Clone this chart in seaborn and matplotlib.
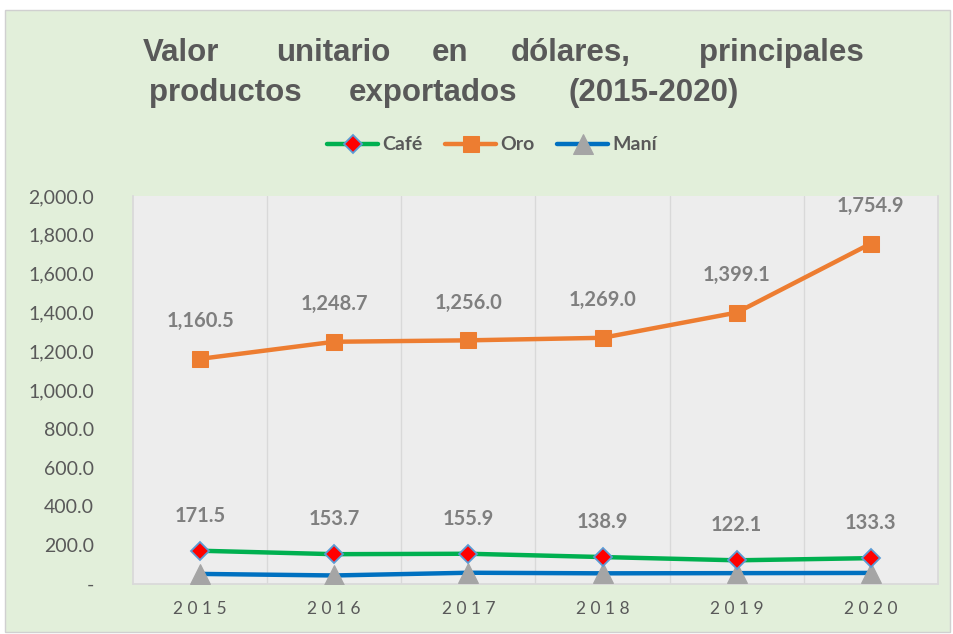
import matplotlib
matplotlib.use("Agg")
import matplotlib.pyplot as plt
import seaborn as sns
import pandas as pd
import numpy as np
from matplotlib.patches import Rectangle

years = ["2015", "2016", "2017", "2018", "2019", "2020"]
cafe = [171.5, 153.7, 155.9, 138.9, 122.1, 133.3]
oro = [1160.5, 1248.7, 1256.0, 1269.0, 1399.1, 1754.9]
mani = [52.0, 44.0, 58.0, 55.0, 56.0, 57.0]
yticks = [0, 200, 400, 600, 800, 1000, 1200, 1400, 1600, 1800, 2000]

sns.set_theme(style="white")
plt.rcParams['font.family'] = ['Lato', 'DejaVu Sans']

W, H = 954, 634
fig = plt.figure(figsize=(W / 100, H / 100), dpi=100, facecolor="white")
fig.patches.append(Rectangle((5 / W, 2 / H), 945 / W, 622 / H, transform=fig.transFigure,
                             facecolor="#E2EFDA", edgecolor="#D0D0D0", lw=1, zorder=-10))

left, right, top, bottom = 133, 938, 196, 584
ax = fig.add_axes([left / W, (H - bottom) / H, (right - left) / W, (bottom - top) / H])
ax.set_zorder(1)
ax.set_facecolor("#EDEDED")

x = np.arange(len(years))
df = pd.DataFrame({"x": x, "Café": cafe, "Oro": oro, "Maní": mani})

grey = "#595959"
lab = "#7F7F7F"

sns.lineplot(data=df, x="x", y="Maní", ax=ax, color="#0070C0", lw=3.2, marker="^",
             markersize=14, markerfacecolor="#A5A5A5", markeredgecolor="#A5A5A5", zorder=3,
             label="Maní")
sns.lineplot(data=df, x="x", y="Café", ax=ax, color="#00B050", lw=3.2, marker="D",
             markersize=9, markerfacecolor="#FF0000", markeredgecolor="#5B9BD5",
             markeredgewidth=1.3, zorder=4, label="Café")
sns.lineplot(data=df, x="x", y="Oro", ax=ax, color="#ED7D31", lw=3.2, marker="s",
             markersize=11, markerfacecolor="#ED7D31", markeredgecolor="#ED7D31", zorder=4,
             label="Oro")

for xi, v in zip(x, oro):
    ax.annotate(f"{v:,.1f}", (xi, v), xytext=(0, 20), textcoords="offset points",
                ha="center", va="bottom", fontsize=14.5, fontweight="bold", color=lab)
for xi, v in zip(x, cafe):
    ax.annotate(f"{v:,.1f}", (xi, v), xytext=(0, 18), textcoords="offset points",
                ha="center", va="bottom", fontsize=14.5, fontweight="bold", color=lab)

ax.set_xlim(-0.5, 5.5)
ax.set_ylim(0, 2000)
ax.set_yticks(yticks)
ax.set_yticklabels(["-" if t == 0 else f"{t:,.1f}" for t in yticks], fontsize=14, color=grey)
ax.set_xticks(x)
ax.set_xticklabels([" ".join(y) for y in years], fontsize=12.5, color=grey)
ax.tick_params(axis="y", length=0, pad=28)
ax.tick_params(axis="x", length=0, pad=12)
ax.set_xlabel("")
ax.set_ylabel("")
for b in np.arange(0.5, 5.5, 1.0):
    ax.axvline(b, color="#D9D9D9", lw=1, zorder=1)
ax.spines["top"].set_visible(False)
for s in ["left", "bottom", "right"]:
    ax.spines[s].set_color("#D9D9D9")

handles, labels = ax.get_legend_handles_labels()
order = [labels.index(n) for n in ["Café", "Oro", "Maní"]]
leg = fig.legend([handles[i] for i in order], [labels[i] for i in order],
                 loc="center", bbox_to_anchor=(492 / W, 1 - 145 / H), ncol=3, frameon=False,
                 prop={"weight": "bold", "size": 14}, handlelength=2.6, columnspacing=1.2,
                 handletextpad=0.2)
for t in leg.get_texts():
    t.set_color(grey)
ax.get_legend().remove()

title_font = dict(family=["Liberation Sans", "DejaVu Sans"], fontsize=22.5, fontweight="bold", color=grey)
line1 = [("Valor", 134, 228), ("unitario", 268, 398), ("en", 429, 471),
         ("dólares,", 505, 636), ("principales", 681, 882)]
line2 = [("productos", 134, 316), ("exportados", 331, 535), ("(2015-2020)", 550, 757)]
for words, yy in [(line1, 53), (line2, 93)]:
    for w, a, b in words:
        fig.text((a + b) / 2 / W, 1 - yy / H, w, ha="center", va="center", **title_font)

fig.savefig("out.png", dpi=100, facecolor=fig.get_facecolor())
